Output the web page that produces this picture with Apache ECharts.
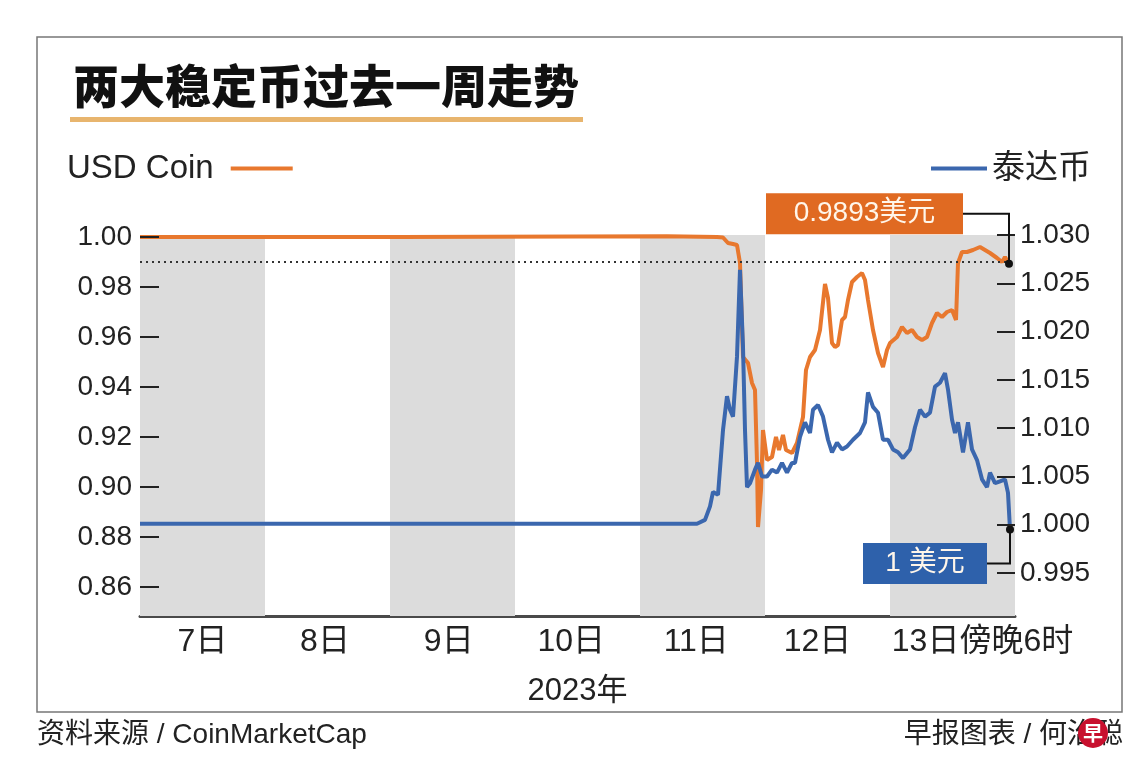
<!DOCTYPE html>
<html>
<head>
<meta charset="utf-8">
<title>两大稳定币过去一周走势</title>
<script src="https://cdn.jsdelivr.net/npm/echarts@6/dist/echarts.min.js"></script>
<style>
  html, body { margin: 0; padding: 0; background: #fff; }
  #main { width: 1140px; height: 781px; }
</style>
</head>
<body>
<div id="main"></div>
<script>
// time in days since 7日 00:00
var usdcTime = [0, 2.08, 4.216, 4.616, 4.664, 4.704, 4.744, 4.776, 4.80, 4.824, 4.864, 4.896, 4.92, 4.936, 4.944,
  4.968, 4.984, 5.016, 5.056, 5.088, 5.112, 5.144, 5.168, 5.216, 5.256, 5.304, 5.328, 5.36, 5.40, 5.44, 5.48,
  5.504, 5.536, 5.56, 5.584, 5.616, 5.64, 5.664, 5.696, 5.736, 5.776, 5.80, 5.824, 5.864, 5.904, 5.944, 5.976,
  6.00, 6.056, 6.096, 6.136, 6.176, 6.216, 6.256, 6.296, 6.336, 6.376, 6.416, 6.456, 6.496, 6.528, 6.544,
  6.576, 6.616, 6.664, 6.72, 6.76, 6.80, 6.856, 6.896, 6.92, 6.952];
var usdcValue = [1.0000, 1.0000, 1.0003, 1.0000, 0.9998, 0.9976, 0.9972, 0.9968, 0.9896, 0.952, 0.9496, 0.9416, 0.9388, 0.9096, 0.884,
  0.8988, 0.9228, 0.9108, 0.912, 0.920, 0.9148, 0.9208, 0.9148, 0.9136, 0.9176, 0.928, 0.9468, 0.952, 0.9548, 0.9628, 0.9812,
  0.9756, 0.9576, 0.956, 0.9568, 0.9668, 0.968, 0.9748, 0.982, 0.984, 0.9856, 0.9828, 0.9748, 0.9628, 0.9536, 0.948, 0.9548,
  0.9576, 0.960, 0.964, 0.9616, 0.9628, 0.960, 0.9588, 0.960, 0.9656, 0.9696, 0.968, 0.970, 0.9708, 0.9668, 0.9896,
  0.994, 0.994, 0.9948, 0.996, 0.9948, 0.9936, 0.9916, 0.990, 0.992, 0.9893];

var usdtTime = [0, 4.456, 4.52, 4.56, 4.584, 4.624, 4.664, 4.696, 4.72, 4.744, 4.776, 4.80, 4.824, 4.84, 4.856, 4.88,
  4.92, 4.944, 4.976, 5.016, 5.056, 5.096, 5.136, 5.176, 5.216, 5.24, 5.28, 5.32, 5.36, 5.384, 5.424, 5.464,
  5.504, 5.536, 5.576, 5.616, 5.656, 5.704, 5.76, 5.80, 5.824, 5.864, 5.904, 5.944, 5.984, 6.024, 6.064, 6.104,
  6.16, 6.20, 6.24, 6.28, 6.32, 6.36, 6.40, 6.44, 6.464, 6.496, 6.52, 6.544, 6.584, 6.624, 6.656, 6.696, 6.736,
  6.776, 6.80, 6.84, 6.88, 6.92, 6.944, 6.96];
var usdtValue = [1.0001, 1.0001, 1.0005, 1.0019, 1.0034, 1.0031, 1.0098, 1.0133, 1.0119, 1.0112, 1.0174, 1.0264, 1.0184, 1.0098, 1.0039, 1.0043,
  1.0057, 1.0064, 1.0050, 1.0050, 1.0057, 1.0054, 1.0064, 1.0054, 1.0064, 1.0064, 1.0091, 1.0106, 1.0095, 1.0119, 1.0124, 1.0112,
  1.0088, 1.0075, 1.0085, 1.0078, 1.0081, 1.0088, 1.0095, 1.0106, 1.0137, 1.0122, 1.0116, 1.0088, 1.0088, 1.0078, 1.0075, 1.0069,
  1.0078, 1.0101, 1.0119, 1.0112, 1.0116, 1.0143, 1.0147, 1.0157, 1.0140, 1.0109, 1.0095, 1.0106, 1.0075, 1.0106, 1.0078, 1.0067, 1.0047,
  1.0039, 1.0054, 1.0043, 1.0045, 1.0047, 1.0033, 0.9995];

var dayLabels = ['7日', '8日', '9日', '10日', '11日', '12日', '13日傍晚6时'];
var dayLabelPos = [0.5, 1.48, 2.47, 3.45, 4.45, 5.42, 6.74];
var shadedDays = [0, 2, 4, 6];
var leftTicks = [0.86, 0.88, 0.90, 0.92, 0.94, 0.96, 0.98, 1.00];
var rightTicks = [0.995, 1.000, 1.005, 1.010, 1.015, 1.020, 1.025, 1.030];
var usdcLastLabel = '0.9893美元';
var usdtLastLabel = '1 美元';

var FONT = '"Liberation Sans", "Noto Sans CJK SC", sans-serif';
var ORANGE = '#e8782e';
var BLUE = '#3b67ae';

function pairs(t, v) {
  var out = [];
  for (var i = 0; i < t.length; i++) out.push([t[i], v[i]]);
  return out;
}

var bands = shadedDays.map(function (d) {
  return [{ xAxis: d }, { xAxis: d + 1 }];
});

var chart = echarts.init(document.getElementById('main'));
chart.setOption({
  animation: false,
  textStyle: { fontFamily: FONT },
  title: {
    text: '两大稳定币过去一周走势',
    left: 68, top: 58,
    textStyle: { fontSize: 46, fontWeight: 900, color: '#111', fontFamily: '"Noto Sans CJK SC", sans-serif' }
  },
  legend: [{
    data: ['USD Coin'], left: 62, top: 147, align: 'right',
    icon: 'rect', itemWidth: 62, itemHeight: 4,
    textStyle: { fontSize: 33, color: '#222', padding: [0, 12, 0, 0] }
  }, {
    data: ['泰达币'], right: 44, top: 147, align: 'left',
    icon: 'rect', itemWidth: 56, itemHeight: 4,
    textStyle: { fontSize: 33, color: '#222' }
  }],
  grid: { left: 140, right: 125, top: 235, bottom: 165 },
  xAxis: {
    type: 'value', min: 0, max: 7,
    name: '2023年', nameLocation: 'middle', nameGap: 60,
    nameTextStyle: { fontSize: 31, color: '#222' },
    axisLine: { lineStyle: { color: '#4a4a4a', width: 3 } },
    axisTick: { show: false },
    splitLine: { show: false },
    axisLabel: {
      customValues: dayLabelPos,
      fontSize: 32, color: '#222', margin: 10,
      formatter: function (v) {
        var best = 0;
        for (var i = 1; i < dayLabelPos.length; i++) {
          if (Math.abs(dayLabelPos[i] - v) < Math.abs(dayLabelPos[best] - v)) best = i;
        }
        return dayLabels[best];
      }
    }
  },
  yAxis: [{
    type: 'value', position: 'left', min: 0.8484, max: 1.0008, z: 5,
    axisLine: { show: false },
    splitLine: { show: false },
    axisTick: { show: true, inside: true, length: 19, customValues: leftTicks, lineStyle: { color: '#222', width: 2 } },
    axisLabel: { customValues: leftTicks, fontSize: 28, color: '#222', margin: 8,
      formatter: function (v) { return v.toFixed(2); } }
  }, {
    type: 'value', position: 'right', min: 0.99055, max: 1.030, z: 5,
    axisLine: { show: false },
    splitLine: { show: false },
    axisTick: { show: true, inside: true, length: 18, customValues: rightTicks, lineStyle: { color: '#222', width: 2 } },
    axisLabel: { customValues: rightTicks, fontSize: 28, color: '#222', margin: 5,
      formatter: function (v) { return v.toFixed(3); } }
  }],
  series: [{
    name: 'USD Coin', type: 'line', yAxisIndex: 0,
    data: pairs(usdcTime, usdcValue),
    showSymbol: false, symbol: 'none',
    color: ORANGE,
    lineStyle: { color: ORANGE, width: 4 },
    markArea: { silent: true, itemStyle: { color: '#dcdcdc' }, data: bands },
    markLine: {
      silent: true, symbol: 'none', label: { show: false },
      lineStyle: { color: '#333', type: [2, 4], width: 2 },
      data: [{ yAxis: usdcValue[usdcValue.length - 1] }]
    },
    markPoint: {
      silent: true, symbol: 'circle', symbolSize: 8,
      itemStyle: { color: '#111' }, label: { show: false },
      data: [{ coord: [usdcTime[usdcTime.length - 1], usdcValue[usdcValue.length - 1]] }]
    }
  }, {
    name: '泰达币', type: 'line', yAxisIndex: 1,
    data: pairs(usdtTime, usdtValue),
    showSymbol: false, symbol: 'none',
    color: BLUE,
    lineStyle: { color: BLUE, width: 4 },
    markPoint: {
      silent: true, symbol: 'circle', symbolSize: 8,
      itemStyle: { color: '#111' }, label: { show: false },
      data: [{ coord: [usdtTime[usdtTime.length - 1], usdtValue[usdtValue.length - 1]] }]
    }
  }]
});

// callout boxes hooked to the last points, plus frame and footer
var p1 = chart.convertToPixel({ seriesIndex: 0 }, [usdcTime[usdcTime.length - 1], usdcValue[usdcValue.length - 1]]);
var p2 = chart.convertToPixel({ seriesIndex: 1 }, [usdtTime[usdtTime.length - 1], usdtValue[usdtValue.length - 1]]);

function callout(p, dx, dy, w, color, text) {
  var right = p[0] - dx, cy = p[1] + dy;
  return [{
    type: 'polyline', z: 10,
    shape: { points: [[right, cy], [p[0], cy], [p[0], p[1]]] },
    style: { stroke: '#111', lineWidth: 2, fill: null }
  }, {
    type: 'rect', z: 11,
    shape: { x: right - w, y: cy - 20.5, width: w, height: 41 },
    style: { fill: color }
  }, {
    type: 'text', z: 12,
    x: right - w / 2, y: cy,
    style: { text: text, fill: '#fff6ea', font: '28px ' + FONT, align: 'center', verticalAlign: 'middle' }
  }];
}

var g = [{
  type: 'rect', silent: true, z: -1,
  shape: { x: 37, y: 37, width: 1085, height: 675 },
  style: { fill: null, stroke: '#777', lineWidth: 1.5 }
}, {
  type: 'rect', silent: true,
  shape: { x: 70, y: 117, width: 513, height: 5 },
  style: { fill: '#e8b56e' }
}, {
  type: 'text', x: 37, y: 735,
  style: { text: '资料来源 / CoinMarketCap', fill: '#222', font: '28px ' + FONT, verticalAlign: 'middle' }
}, {
  type: 'text', x: 1123, y: 735,
  style: { text: '早报图表 / 何治聪', fill: '#222', font: '28px ' + FONT, align: 'right', verticalAlign: 'middle' }
}, {
  type: 'circle', z: 5, shape: { cx: 1093, cy: 733, r: 15 },
  style: { fill: '#c8102e' }
}, {
  type: 'text', z: 6, x: 1093, y: 733,
  style: { text: '早', fill: '#fff', font: 'bold 20px "Noto Sans CJK SC"', align: 'center', verticalAlign: 'middle' }
}];
g = g.concat(callout(p1, 46, -50, 197, '#e06a22', usdcLastLabel));
g = g.concat(callout(p2, 23, 34, 124, '#2e61ab', usdtLastLabel));
chart.setOption({ graphic: g });
</script>
</body>
</html>
